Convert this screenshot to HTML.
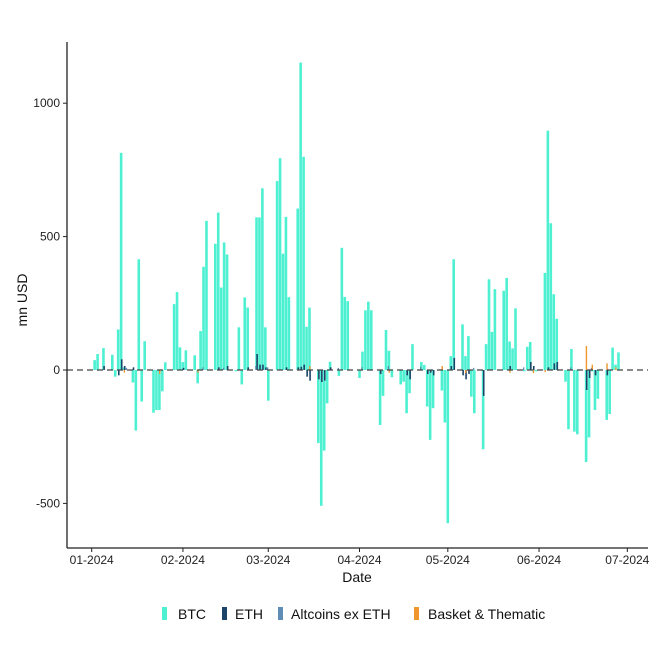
<!DOCTYPE html>
<html><head><meta charset="utf-8"><style>
body{margin:0;background:#fff;}
svg text{font-family:"Liberation Sans",Arial,sans-serif;}
</style></head><body>
<svg id="chart" width="661" height="661" viewBox="0 0 661 661">
<g id="marks"></g>
<line x1="67" y1="370" x2="648" y2="370" stroke="#444" stroke-width="1.3" stroke-dasharray="6,4"/>
<line x1="67" y1="42" x2="67" y2="548" stroke="#222" stroke-width="1.3"/>
<line x1="67" y1="548" x2="648" y2="548" stroke="#222" stroke-width="1.3"/>
<g id="yticks"></g>
<g id="xticks"></g>
<text x="27" y="300" font-size="14" text-anchor="middle" transform="rotate(-90 27 300)" fill="#111">mn USD</text>
<text x="357" y="582" font-size="14" text-anchor="middle" fill="#111">Date</text>
<g>
<rect x="162" y="607" width="5" height="13" fill="#4ef0d2"/>
<text x="178" y="619" font-size="14" fill="#111">BTC</text>
<rect x="222" y="607" width="5" height="13" fill="#1b4468"/>
<text x="235" y="619" font-size="14" fill="#111">ETH</text>
<rect x="278" y="607" width="5" height="13" fill="#5f8db5"/>
<text x="291" y="619" font-size="14" fill="#111">Altcoins ex ETH</text>
<rect x="414" y="607" width="5" height="13" fill="#f0962e"/>
<text x="428" y="619" font-size="14" fill="#111">Basket &amp; Thematic</text>
</g>
</svg>
<script>
const btcDays=[1,2,4,7,8,9,10,11,14,15,16,17,18,21,22,23,24,25,28,29,30,31,32,35,36,37,38,39,42,43,44,45,46,49,50,51,52,53,56,57,58,59,60,63,64,65,66,67,70,71,72,73,74,77,78,79,80,81,84,85,86,87,91,92,93,94,95,98,99,100,101,102,105,106,107,108,109,112,113,114,115,116,119,120,121,122,123,126,127,128,129,130,133,134,135,136,137,140,141,142,143,144,147,148,149,150,151,154,155,156,157,158,161,162,163,164,165,168,169,170,171,172,175,176,177,178,179];
const btcVals=[37,60,82,57,-25,152,814,10,-47,-227,415,-118,108,-160,-150,-150,-80,29,247,292,85,30,74,55,-50,146,387,559,473,590,309,478,433,-5,160,-54,272,234,572,572,681,160,-115,708,794,436,574,273,605,1152,799,162,234,-274,-509,-302,-125,31,-22,458,274,258,-30,69,224,256,224,-206,-97,150,72,-27,-54,-44,-162,-87,97,30,19,-137,-262,-143,-77,-197,-574,52,415,171,52,127,-100,-162,-297,97,340,143,303,297,345,107,81,231,-5,87,105,-5,-5,364,897,550,284,192,-44,-222,79,-231,-241,-345,-253,-5,-150,-108,-187,-165,84,20,66];
const ethDays=[4,9,10,11,14,31,43,46,53,56,57,58,59,66,70,71,72,73,74,77,78,79,81,98,107,108,114,115,116,122,123,126,127,128,133,142,149,150,155,157,158,168,169,171,175];
const ethVals=[15,-20,40,15,10,8,10,15,10,60,20,20,10,10,10,12,20,-25,-40,-35,-45,-40,10,-15,-20,-35,-15,-10,-20,15,45,-20,-35,-15,-97,15,30,15,10,25,30,-75,-30,-20,-20];
const altDays=[12,38,45,56,60,84,92,101,112,130,147,163,170];
const altVals=[8,10,8,15,10,8,10,15,12,8,10,10,8];
const basketDays=[11,23,36,74,101,119,127,142,150,154,168,170,175,178];
const basketVals=[-10,-15,-10,15,-10,15,-12,-10,-12,-8,90,20,25,10];
const yTicks=[1000,500,0,-500];
const xTickDays=[0,31,60,91,121,152,182];
const xTickLabels=["01-2024","02-2024","03-2024","04-2024","05-2024","06-2024","07-2024"];
const NS="http://www.w3.org/2000/svg";
function xs(d){return 91.7+d*2.943;}
function ys(v){return 370-v*(133.4/500);}
const g=document.getElementById('marks');
function bar(d,v,color,w,off,name){
  const r=document.createElementNS(NS,'rect');
  const y0=ys(0),y1=ys(v);
  r.setAttribute('x',xs(d)-w/2+off);
  r.setAttribute('y',Math.min(y0,y1));
  r.setAttribute('width',w);
  r.setAttribute('height',Math.max(0.8,Math.abs(y1-y0)));
  r.setAttribute('fill',color);
  
  
  g.appendChild(r);
}
btcDays.forEach((d,i)=>bar(d,btcVals[i],'#4ef0d2',2.6,0,'bar-btc'));
ethDays.forEach((d,i)=>bar(d,ethVals[i],'#1b4468',1.6,0.6,'bar-eth'));
altDays.forEach((d,i)=>bar(d,altVals[i],'#5f8db5',1.3,-0.6,'bar-altcoins'));
basketDays.forEach((d,i)=>bar(d,basketVals[i],'#f0962e',1.4,0.3,'bar-basket'));
const yt=document.getElementById('yticks');
yTicks.forEach(v=>{
  const l=document.createElementNS(NS,'line');
  l.setAttribute('x1',63);l.setAttribute('x2',67);l.setAttribute('y1',ys(v));l.setAttribute('y2',ys(v));
  l.setAttribute('stroke','#222');
  
  
  yt.appendChild(l);
  const t=document.createElementNS(NS,'text');
  t.setAttribute('x',60);t.setAttribute('y',ys(v)+4);t.setAttribute('text-anchor','end');t.setAttribute('font-size','12');t.setAttribute('fill','#222');
  t.textContent=v;
  
  
  yt.appendChild(t);
});
const xt=document.getElementById('xticks');
xTickDays.forEach((d,i)=>{
  const l=document.createElementNS(NS,'line');
  l.setAttribute('x1',xs(d));l.setAttribute('x2',xs(d));l.setAttribute('y1',548);l.setAttribute('y2',552);
  l.setAttribute('stroke','#222');
  
  
  xt.appendChild(l);
  const t=document.createElementNS(NS,'text');
  t.setAttribute('x',xs(d));t.setAttribute('y',564);t.setAttribute('text-anchor','middle');t.setAttribute('font-size','12');t.setAttribute('fill','#222');
  t.textContent=xTickLabels[i];
  
  
  xt.appendChild(t);
});
</script>
</body></html>
